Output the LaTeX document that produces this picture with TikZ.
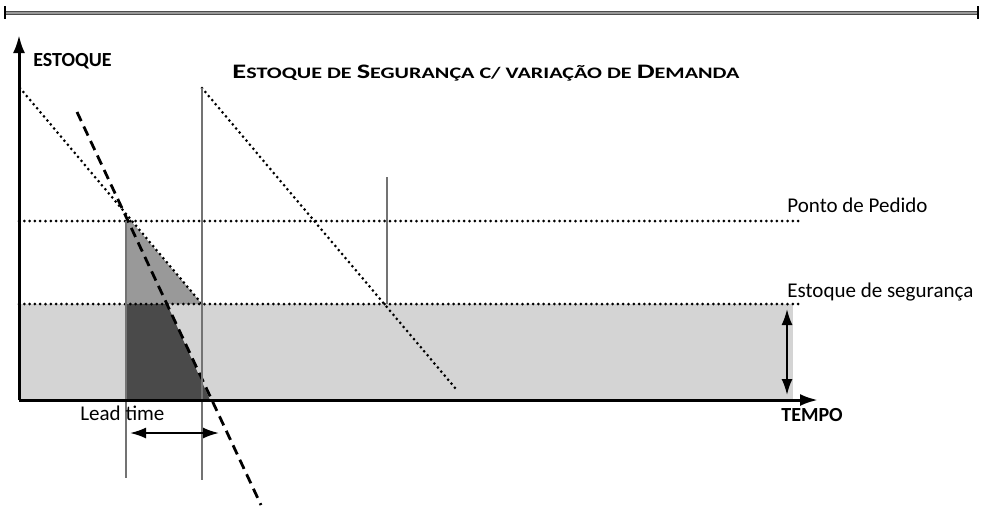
\documentclass[tikz,border=0pt]{standalone}
\usepackage{fontspec}
\setmainfont{Carlito}
\newfontfamily\titlefont[FakeStretch=1.38]{Carlito}
\usetikzlibrary{arrows.meta}
\definecolor{safetygray}{RGB}{212,212,212}
\definecolor{ordergray}{RGB}{153,153,153}
\definecolor{leadgray}{RGB}{74,74,74}
\tikzstyle{dotline} = [line width=1.5pt, line cap=round, dash pattern=on 0pt off 2.65pt]
\tikzstyle{dashline} = [line width=1.4pt, dash pattern=on 5pt off 3pt]
\tikzstyle{thinline} = [line width=0.6pt, draw=black!55]
\tikzstyle{axis} = [line width=1.5pt, -{Latex[length=9pt,width=6pt]}]
\tikzstyle{span} = [line width=1pt, {Latex[length=8pt,width=5.5pt]}-{Latex[length=8pt,width=5.5pt]}]
\tikzstyle{tag} = [anchor=base west, inner sep=0pt, font=\fontsize{10.5}{12}\selectfont]
\tikzstyle{boldtag} = [anchor=base west, inner sep=0pt, font=\fontsize{10}{12}\selectfont\bfseries]
\newcommand{\bigc}[1]{{\fontsize{10.3}{12}\selectfont #1}}
\newcommand{\smallc}[1]{{\fontsize{8}{10}\selectfont #1}}

\begin{document}
\begin{tikzpicture}[x=0.5pt,y=-0.5pt]
\useasboundingbox (0,0) rectangle (983,505);

% top rule
\draw [line width=0.4pt, draw=black!70, double=black!40, double distance=1.3pt] (5,13) -- (978,13);
\draw [line width=1.1pt] (5,6) -- (5,19) (978,6) -- (978,19);

% key points
\coordinate (origin) at (19,400);
\coordinate (ytop) at (19,35);
\coordinate (xend) at (818,400);

% areas
\fill [safetygray] (19,304) rectangle (793,400);
\fill [ordergray] (126,221) -- (131,221) -- (202,304) -- (126,304) -- cycle;
\fill [leadgray] (126,304) -- (167,304) -- (210,400) -- (126,400) -- cycle;

% levels
\draw [dotline] (19,221) -- (800,221);
\draw [dotline] (19,304) -- (800,304);

% consumption
\draw [dotline] (20,88) -- (202,304);
\draw [dotline] (202,88) -- (456,389);
\draw [dashline] (77,112) -- (261,505);

% verticals
\draw [thinline] (126,221) -- (126,478);
\draw [thinline] (202,88) -- (202,480);
\draw [thinline] (387,177) -- (387,304);

% axes
\draw [axis] (origin) -- (ytop);
\draw [axis] (origin) -- (xend);

% spans
\coordinate (leadA) at (130,433);
\coordinate (leadB) at (219,433);
\draw [span] (leadA) -- (leadB);
\coordinate (safeA) at (787,309);
\coordinate (safeB) at (787,395);
\draw [span] (safeA) -- (safeB);

% texts
\node (stock) [boldtag] at (33,66) {ESTOQUE};
\node (time) [boldtag] at (781,421) {TEMPO};
\node (title) [anchor=base west, inner sep=0pt, font=\titlefont\bfseries] at (232,78)
  {\bigc{E}\smallc{STOQUE DE }\bigc{S}\smallc{EGURANÇA C/ VARIAÇÃO DE }\bigc{D}\smallc{EMANDA}};
\node (reorder) [tag] at (787,212) {Ponto de Pedido};
\node (safety) [tag] at (787,297) {Estoque de segurança};
\node (lead) [tag] at (80,420) {Lead time};

\end{tikzpicture}
\end{document}
